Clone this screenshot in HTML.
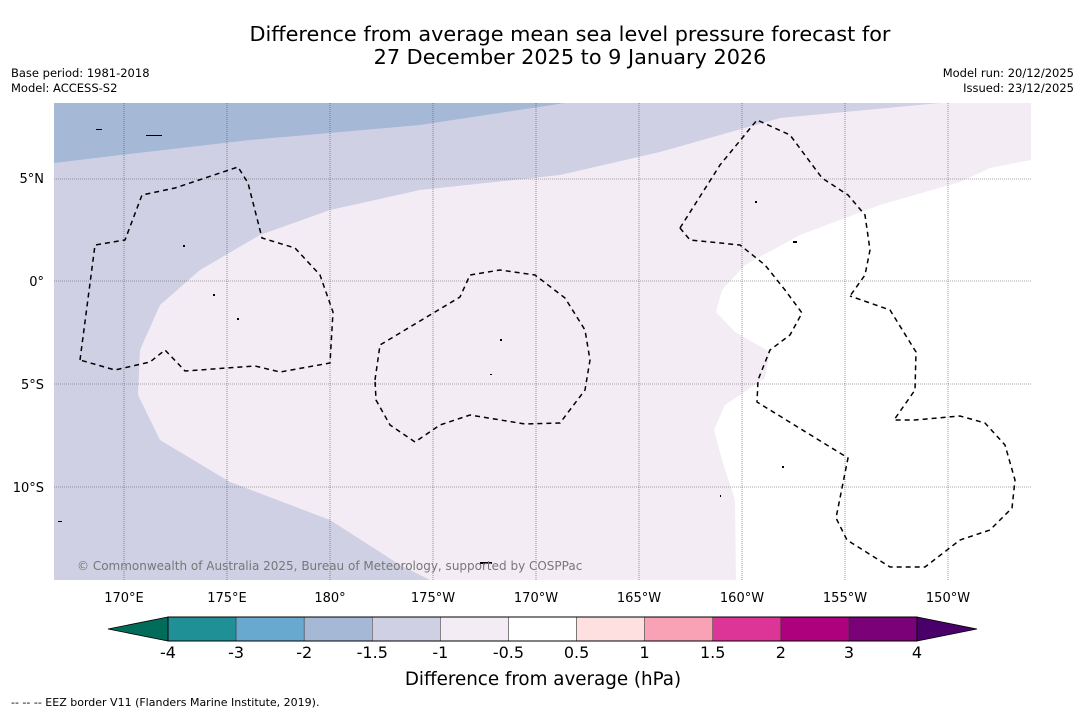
<!DOCTYPE html>
<html><head><meta charset="utf-8"><style>
body{margin:0;background:#fff;font-family:"DejaVu Sans","Liberation Sans",sans-serif;}
svg text{font-family:"DejaVu Sans","Liberation Sans",sans-serif;}
</style></head><body>
<svg id="c" width="1085" height="713" viewBox="0 0 1085 713" xmlns="http://www.w3.org/2000/svg">
<rect width="1085" height="713" fill="#fff"/>
<text x="570" y="41" font-size="20.8" text-anchor="middle">Difference from average mean sea level pressure forecast for</text>
<text x="570" y="64" font-size="20.8" text-anchor="middle">27 December 2025 to 9 January 2026</text>
<text x="11" y="77" font-size="11.5">Base period: 1981-2018</text>
<text x="11" y="92" font-size="11.5">Model: ACCESS-S2</text>
<text x="1074" y="77" font-size="11.5" text-anchor="end">Model run: 20/12/2025</text>
<text x="1074" y="92" font-size="11.5" text-anchor="end">Issued: 23/12/2025</text>
<defs><clipPath id="mc"><rect x="54" y="103" width="977" height="477"/></clipPath></defs>
<g clip-path="url(#mc)">
<rect x="54" y="103" width="977" height="477" fill="#cfd0e4"/>
<path d="M54,103 L565,103 L420,125 L250,140 L120,155 L54,163 Z" fill="#a5b8d6"/>
<path d="M940,103 L1031,103 L1031,580 L430,580 L400,565 L330,520 L230,482 L160,440 L138,395 L140,350 L160,305 L200,270 L260,235 L330,210 L420,190 L560,175 L660,152 L780,118 Z" fill="#f3ecf5"/>
<path d="M1031,160 L990,168 L960,182 L880,205 L800,235 L745,265 L722,290 L716,312 L735,332 L770,352 L765,378 L725,405 L714,430 L722,460 L735,500 L736,580 L1031,580 Z" fill="#fff"/>
<g stroke="#555" stroke-width="0.6" stroke-dasharray="1,1">
<line x1="124" y1="103" x2="124" y2="580"/><line x1="227" y1="103" x2="227" y2="580"/><line x1="330" y1="103" x2="330" y2="580"/><line x1="433" y1="103" x2="433" y2="580"/><line x1="536" y1="103" x2="536" y2="580"/><line x1="639" y1="103" x2="639" y2="580"/><line x1="742" y1="103" x2="742" y2="580"/><line x1="845" y1="103" x2="845" y2="580"/><line x1="948" y1="103" x2="948" y2="580"/>
<line x1="54" y1="179" x2="1031" y2="179"/><line x1="54" y1="281" x2="1031" y2="281"/><line x1="54" y1="384" x2="1031" y2="384"/><line x1="54" y1="487" x2="1031" y2="487"/>
</g>
<g fill="none" stroke="#000" stroke-width="1.5" stroke-dasharray="5,4">
<path d="M80,360 L95,245 L125,240 L142,195 L175,188 L238,167 L248,183 L262,238 L295,248 L320,275 L333,312 L330,363 L280,372 L255,366 L185,371 L165,350 L150,362 L115,370 Z"/>
<path d="M375,380 L380,345 L430,315 L460,297 L470,275 L500,270 L535,275 L565,298 L585,330 L590,360 L585,390 L560,423 L525,424 L470,415 L440,425 L415,442 L390,425 L376,400 Z"/>
<path d="M680,228 L720,165 L757,120 L790,135 L822,178 L848,195 L865,215 L870,250 L865,275 L850,296"/>
<path d="M680,228 L690,240 L740,245 L765,265 L785,290 L802,313 L790,335 L770,350 L758,380 L757,402 L848,458 L836,518 L847,540 L890,567 L925,567 L960,540 L990,530 L1012,508 L1015,480 L1005,445 L985,423 L960,416 L915,420 L894,420 L915,390 L916,352 L890,310 L850,296"/>
</g>
<g fill="#000">
<rect x="96" y="129" width="6" height="1"/><rect x="146" y="135" width="16" height="1"/><rect x="183" y="245" width="2" height="2"/><rect x="213" y="294" width="2" height="2"/><rect x="237" y="318" width="2" height="2"/><rect x="500" y="339" width="2" height="2"/><rect x="490" y="374" width="2" height="1"/><rect x="755" y="201" width="2" height="2"/><rect x="793" y="241" width="4" height="2"/><rect x="782" y="466" width="2" height="2"/><rect x="480" y="562" width="12" height="2"/><rect x="58" y="521" width="4" height="1"/><rect x="720" y="495" width="1" height="2"/>
</g>
<text x="77" y="570" font-size="12" fill="#777">© Commonwealth of Australia 2025, Bureau of Meteorology, supported by COSPPac</text>
</g>
<g font-size="13">
<text x="44" y="183" text-anchor="end">5°N</text><text x="44" y="286" text-anchor="end">0°</text><text x="44" y="389" text-anchor="end">5°S</text><text x="44" y="492" text-anchor="end">10°S</text>
</g>
<g font-size="13" text-anchor="middle">
<text x="124" y="602">170°E</text><text x="227" y="602">175°E</text><text x="330" y="602">180°</text><text x="433" y="602">175°W</text><text x="536" y="602">170°W</text><text x="639" y="602">165°W</text><text x="742" y="602">160°W</text><text x="845" y="602">155°W</text><text x="948" y="602">150°W</text>
</g>
<g id="cbar"></g>
<text x="543" y="685" font-size="18.3" text-anchor="middle">Difference from average (hPa)</text>
<text x="11" y="706" font-size="11">--  --  -- EEZ border V11 (Flanders Marine Institute, 2019).</text>
</svg>
<script>
const bounds=["-4","-3","-2","-1.5","-1","-0.5","0.5","1","1.5","2","3","4"];
const binColors=["#1f9096","#67a9cf","#a5b8d6","#cfd0e4","#f3ecf5","#ffffff","#fde0df","#f9a1b5","#dd3497","#ae017e","#7a0177"];
const underColor="#016c59", overColor="#49006a";
const g=document.getElementById('cbar');
const x0=168,x1=917,y0=617,y1=641,ns="http://www.w3.org/2000/svg";
const w=(x1-x0)/binColors.length;
function mk(t,a){const e=document.createElementNS(ns,t);for(const k in a)e.setAttribute(k,a[k]);g.appendChild(e);return e;}
const tl=mk('polygon',{points:`${x0},${y0} ${x0},${y1} 108,${(y0+y1)/2}`,fill:underColor,stroke:'#000','stroke-width':0.8});


const tr=mk('polygon',{points:`${x1},${y0} ${x1},${y1} 977,${(y0+y1)/2}`,fill:overColor,stroke:'#000','stroke-width':0.8});


binColors.forEach((c,i)=>{
 const r=mk('rect',{x:x0+i*w,y:y0,width:w,height:y1-y0,fill:c,stroke:'#333','stroke-width':0.5});
 
 
});
mk('rect',{x:x0,y:y0,width:x1-x0,height:y1-y0,fill:'none',stroke:'#000','stroke-width':1});
bounds.forEach((b,i)=>{
 const t=mk('text',{x:x0+i*w,y:658,'font-size':16,'text-anchor':'middle'});
 t.textContent=b;
 
 
});
</script>
</body></html>
